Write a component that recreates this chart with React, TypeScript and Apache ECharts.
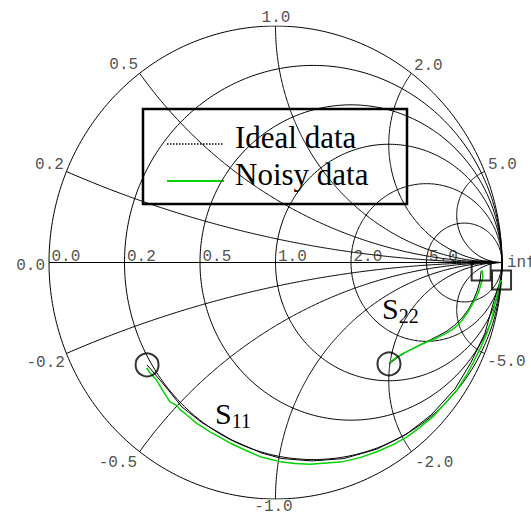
import React, { useEffect, useRef } from "react";
import * as echarts from "echarts";

// Smith chart grid: constant-resistance circles and constant-reactance arcs
const resistanceValues = [0, 0.2, 0.5, 1, 2, 5];
const reactanceValues = [0.2, 0.5, 1, 2, 5];

// Tick labels on the real axis (resistance) and around the rim (reactance)
const resistanceTicks = [0, 0.2, 0.5, 1, 2, 5, Infinity];
const resistanceTickLabels = ["0.0", "0.2", "0.5", "1.0", "2.0", "5.0", "inf"];
const reactanceTicks = [0, 0.2, 0.5, 1, 2, 5, -0.2, -0.5, -1, -2, -5];
const reactanceTickLabels = ["0.0", "0.2", "0.5", "1.0", "2.0", "5.0", "-0.2", "-0.5", "-1.0", "-2.0", "-5.0"];

// Legend entries
const legendNames = ["Ideal data", "Noisy data"];

// Reflection coefficients as [Re, Im]
const s11Ideal = [
  [-0.567, -0.433], [-0.488, -0.522], [-0.413, -0.611], [-0.325, -0.677], [-0.192, -0.751],
  [-0.06, -0.806], [0.029, -0.829], [0.161, -0.839], [0.302, -0.829], [0.448, -0.789],
  [0.576, -0.727], [0.687, -0.645], [0.792, -0.535], [0.863, -0.423], [0.925, -0.298],
  [0.962, -0.171], [0.987, -0.095], [0.998, -0.074],
];
const s11Noisy = [
  [-0.569, -0.446], [-0.554, -0.467], [-0.525, -0.497], [-0.497, -0.543], [-0.466, -0.589],
  [-0.435, -0.605], [-0.422, -0.622], [-0.386, -0.649], [-0.348, -0.68], [-0.289, -0.716],
  [-0.201, -0.763], [-0.135, -0.793], [-0.068, -0.821], [0.02, -0.842], [0.086, -0.85],
  [0.152, -0.853], [0.298, -0.842], [0.373, -0.825], [0.448, -0.8], [0.519, -0.77],
  [0.581, -0.737], [0.636, -0.698], [0.695, -0.652], [0.752, -0.592], [0.801, -0.539],
  [0.841, -0.48], [0.872, -0.425], [0.907, -0.357], [0.934, -0.298], [0.956, -0.235],
  [0.969, -0.171], [0.982, -0.125], [0.991, -0.087], [0.998, -0.074],
];
const s22Ideal = [
  [0.501, -0.429], [0.541, -0.4], [0.585, -0.374], [0.629, -0.353], [0.673, -0.332],
  [0.717, -0.311], [0.757, -0.29], [0.792, -0.264], [0.823, -0.235], [0.85, -0.201],
  [0.872, -0.163], [0.89, -0.121], [0.903, -0.078], [0.908, -0.036],
];
const s22Noisy = [
  [0.501, -0.425], [0.532, -0.402], [0.563, -0.384], [0.603, -0.366], [0.638, -0.349],
  [0.673, -0.334], [0.713, -0.319], [0.748, -0.302], [0.779, -0.285], [0.806, -0.264],
  [0.828, -0.239], [0.85, -0.209], [0.867, -0.18], [0.885, -0.15], [0.898, -0.121],
  [0.907, -0.091], [0.916, -0.061], [0.912, -0.032],
];

// Placement of the rim labels relative to where each reactance arc meets the rim
const rimLabelLayout = [
  { align: "right", dx: -4, dy: 3.5 },
  { align: "right", dx: -2.5, dy: -6.5 },
  { align: "right", dx: -1.5, dy: -8 },
  { align: "center", dx: 0.5, dy: -8.5 },
  { align: "left", dx: 2.5, dy: -7 },
  { align: "left", dx: 3.5, dy: -6.5 },
  { align: "right", dx: -1.5, dy: 10 },
  { align: "right", dx: -2.5, dy: 11 },
  { align: "center", dx: -2, dy: 8 },
  { align: "left", dx: 3.5, dy: 11 },
  { align: "left", dx: 2.5, dy: 9 },
];

const MONO = '"Liberation Mono", "DejaVu Sans Mono", monospace';
const SERIF = '"Liberation Serif", "Times New Roman", serif';
const IDEAL_COLOR = "#000";
const NOISY_COLOR = "#00d400";

// Normalised impedance z = r + jx  ->  reflection coefficient
function gammaFromZ(r: number, x: number): number[] {
  if (!isFinite(r)) return [1, 0];
  const den = (r + 1) * (r + 1) + x * x;
  return [(r * r + x * x - 1) / den, (2 * x) / den];
}

function resistanceCircle(r: number): number[][] {
  const c = r / (1 + r);
  const rad = 1 / (1 + r);
  const pts: number[][] = [];
  for (let i = 0; i <= 360; i++) {
    const a = (i / 360) * 2 * Math.PI;
    pts.push([c + rad * Math.cos(a), rad * Math.sin(a)]);
  }
  return pts;
}

function reactanceArc(x: number): number[][] {
  const pts: number[][] = [];
  const n = 240;
  for (let i = 0; i <= n; i++) {
    const r = i === n ? Infinity : Math.tan((i / n) * (Math.PI / 2));
    pts.push(gammaFromZ(r, x));
  }
  return pts;
}

function gridLine(data: number[][]) {
  return {
    type: "line",
    data,
    symbol: "none",
    silent: true,
    z: 1,
    lineStyle: { color: "#000", width: 1 },
  };
}

function subscriptLabel(main: string, sub: string, x: number, y: number) {
  return {
    type: "text",
    z: 50,
    style: {
      x,
      y,
      text: `{s|${main}}{n|${sub}}`,
      align: "left",
      verticalAlign: "middle",
      rich: {
        s: { fontFamily: SERIF, fontSize: 30, fill: "#000", color: "#000" },
        n: { fontFamily: SERIF, fontSize: 20, fill: "#000", color: "#000", padding: [15, 0, 0, 0] },
      },
    },
  };
}

// Framed key in the upper half of the chart
function legendBox() {
  return {
    type: "group",
    z: 60,
    children: [
      {
        type: "rect",
        shape: { x: 143, y: 109, width: 264, height: 95 },
        style: { fill: "#fff", stroke: "#000", lineWidth: 2.5 },
      },
      {
        type: "line",
        shape: { x1: 167, y1: 144, x2: 223, y2: 144 },
        style: { stroke: IDEAL_COLOR, lineWidth: 1.5, lineDash: [1.5, 1.5] },
      },
      {
        type: "text",
        style: { x: 235, y: 137.5, text: legendNames[0], fontFamily: SERIF, fontSize: 31, fill: "#000", align: "left", verticalAlign: "middle" },
      },
      {
        type: "line",
        shape: { x1: 167, y1: 181, x2: 224, y2: 181 },
        style: { stroke: NOISY_COLOR, lineWidth: 2 },
      },
      {
        type: "text",
        style: { x: 235, y: 174.5, text: legendNames[1], fontFamily: SERIF, fontSize: 31, fill: "#000", align: "left", verticalAlign: "middle" },
      },
    ],
  };
}

export default function App() {
  const ref = useRef<HTMLDivElement>(null);

  useEffect(() => {
    document.body.style.margin = "0";
    if (!ref.current) return;
    const chart = echarts.init(ref.current, undefined, { renderer: "svg" });

    const gridSeries: any[] = [];
    resistanceValues.forEach((r) => gridSeries.push(gridLine(resistanceCircle(r))));
    reactanceValues.forEach((x) => {
      gridSeries.push(gridLine(reactanceArc(x)));
      gridSeries.push(gridLine(reactanceArc(-x)));
    });
    gridSeries.push(gridLine([[-1, 0], [1, 0]]));

    const rimLabels = reactanceTicks.map((x, i) => {
      const L = rimLabelLayout[i];
      return {
        value: gammaFromZ(0, x),
        label: {
          show: true,
          formatter: reactanceTickLabels[i],
          position: "inside",
          align: L.align,
          verticalAlign: "middle",
          offset: [L.dx, L.dy],
        },
      };
    });
    const axisLabels = resistanceTicks.map((r, i) => {
      const last = !isFinite(r);
      return {
        value: gammaFromZ(r, 0),
        label: {
          show: true,
          formatter: resistanceTickLabels[i],
          position: "inside",
          align: "left",
          verticalAlign: "middle",
          offset: last ? [5, 0.5] : [2.5, -6],
        },
      };
    });

    const idealStyle = { color: IDEAL_COLOR, width: 1 };
    const noisyStyle = { color: NOISY_COLOR, width: 1.5 };

    chart.setOption({
      animation: false,
      backgroundColor: "#fff",
      grid: { left: 49, top: 26, width: 453, height: 473 },
      xAxis: { type: "value", min: -1, max: 1, show: false },
      yAxis: { type: "value", min: -1, max: 1, show: false },
      graphic: [legendBox(), subscriptLabel("S", "11", 215, 413), subscriptLabel("S", "22", 382, 308)],
      series: [
        ...gridSeries,
        {
          type: "scatter",
          silent: true,
          symbolSize: 1,
          itemStyle: { color: "transparent" },
          label: { fontFamily: MONO, fontSize: 16, color: "#222" },
          data: [...rimLabels, ...axisLabels],
          z: 3,
        },
        { name: legendNames[0], type: "line", data: s11Ideal, symbol: "none", lineStyle: idealStyle, z: 4 },
        { name: legendNames[0], type: "line", data: s22Ideal, symbol: "none", lineStyle: idealStyle, z: 4 },
        { name: legendNames[1], type: "line", data: s11Noisy, symbol: "none", lineStyle: noisyStyle, z: 5 },
        { name: legendNames[1], type: "line", data: s22Noisy, symbol: "none", lineStyle: noisyStyle, z: 5 },
        {
          type: "scatter",
          silent: true,
          symbol: "circle",
          symbolSize: 23,
          itemStyle: { color: "transparent", borderColor: "#000", borderWidth: 2 },
          data: [s11Ideal[0], s22Ideal[0]],
          z: 6,
        },
        {
          type: "scatter",
          silent: true,
          symbol: "rect",
          symbolSize: 19,
          itemStyle: { color: "transparent", borderColor: "#000", borderWidth: 2 },
          data: [s11Ideal[s11Ideal.length - 1], s22Ideal[s22Ideal.length - 1]],
          z: 6,
        },
      ],
    });

    return () => chart.dispose();
  }, []);

  return <div ref={ref} style={{ width: 531, height: 515 }} />;
}
